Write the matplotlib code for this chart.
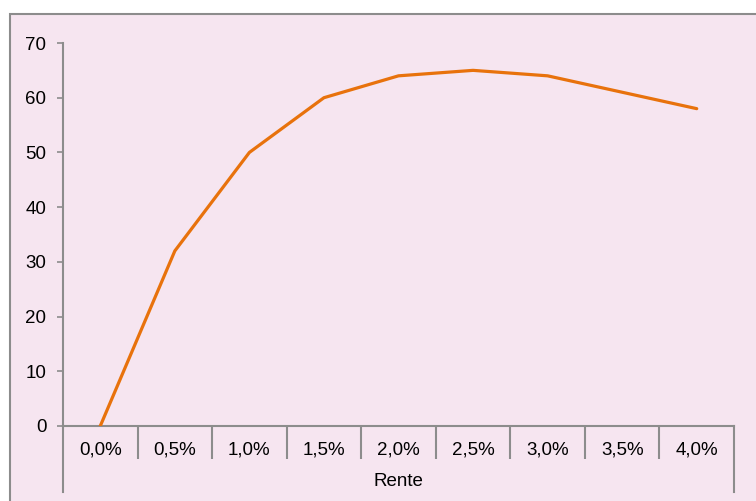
import matplotlib.pyplot as plt
from matplotlib.patches import Rectangle
from matplotlib.transforms import blended_transform_factory

plt.rcParams['font.family'] = ['Liberation Sans', 'DejaVu Sans']

# Daten
rente = ["0,0%", "0,5%", "1,0%", "1,5%", "2,0%", "2,5%", "3,0%", "3,5%", "4,0%"]
werte = [0, 32, 50, 60, 64, 65, 64, 61, 58]

W, H = 756, 501
fig = plt.figure(figsize=(W / 100, H / 100), dpi=100)
fig.patch.set_facecolor("white")

# Rahmen / Hintergrund
fig.patches.append(Rectangle((10 / W, -0.1), 1.2, 1 - 14 / H + 0.1,
                             transform=fig.transFigure, facecolor="#F6E5F0",
                             edgecolor="#8C8C8C", linewidth=1.5, zorder=-10))

ax = fig.add_axes([63 / W, 1 - 426 / H, (734 - 63) / W, (426 - 43) / H])
ax.set_facecolor("none")
grau = "#8C8C8C"

x = list(range(len(rente)))
ax.plot(x, werte, color="#E8720C", linewidth=2.3, solid_capstyle="round", zorder=5)

ax.set_xlim(-0.5, len(rente) - 0.5)
ax.set_ylim(0, 70)
ax.set_yticks(range(0, 71, 10))
ax.set_xticks(x)
ax.set_xticklabels(rente)
ax.set_xticks([i + 0.5 for i in range(len(rente) - 1)], minor=True)

for s in ["top", "right"]:
    ax.spines[s].set_visible(False)
ax.spines["left"].set_color(grau)
ax.spines["bottom"].set_color(grau)
ax.spines["left"].set_linewidth(1.5)
ax.spines["bottom"].set_linewidth(1.5)

fs = 13.5
ax.tick_params(axis="y", direction="out", length=4, width=1.2, color=grau,
               labelsize=fs, pad=8)
ax.tick_params(axis="x", which="major", length=0, labelsize=fs, pad=11)
ax.tick_params(axis="x", which="minor", direction="out", length=24, width=1.5,
               color=grau)

# äußere Trennlinien der Kategorieachse
tr = blended_transform_factory(ax.transData, ax.transAxes)
unten = (426 - 492) / (426 - 43)
for xx in [-0.5, len(rente) - 0.5]:
    ax.plot([xx, xx], [0, unten], color=grau, linewidth=1.5, transform=tr,
            clip_on=False)

ax.text(0.5, (426 - 482) / (426 - 43), "Rente", transform=ax.transAxes,
        ha="center", va="center", fontsize=fs)

fig.savefig("out.png", dpi=100)
